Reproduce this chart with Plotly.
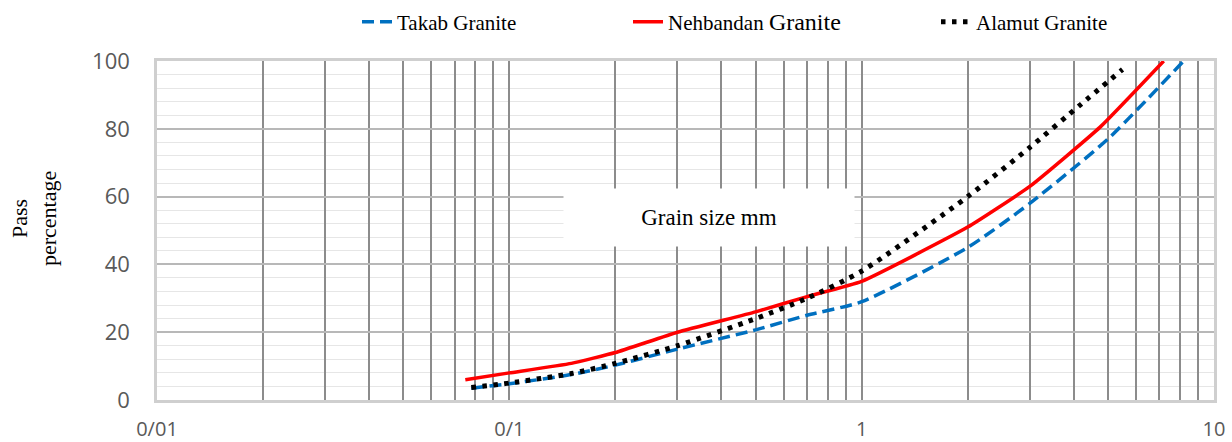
import plotly.graph_objects as go

# Data
takab_size = [0.078, 0.1, 0.15, 0.2, 0.3, 0.5, 0.7, 1, 2, 3, 5, 8.2]
takab_pass = [3.5, 4.8, 7.5, 10.3, 15, 20.7, 25, 29, 45, 58, 77, 100]

nehbandan_size = [0.075, 0.1, 0.15, 0.2, 0.3, 0.5, 0.7, 1, 2, 3, 4.75, 7.2]
nehbandan_pass = [6, 8, 10.8, 14, 20, 26, 30.5, 35, 51, 63, 80.5, 100]

alamut_size = [0.078, 0.1, 0.15, 0.2, 0.3, 0.5, 0.7, 1, 2, 3, 4.2, 5.5]
alamut_pass = [3.7, 5, 7.8, 10.8, 16, 24, 30, 38, 60, 74.5, 87.3, 97.5]

decades = [0.01, 0.1, 1, 10]
decade_labels = ["0/01", "0/1", "1", "10"]
y_ticks = [0, 20, 40, 60, 80, 100]

# vertical grid positions (1..9 in each decade)
grid_vals = []
grid_text = []
for i, d in enumerate(decades[:-1]):
    for m in range(1, 10):
        grid_vals.append(round(d * m, 6))
        grid_text.append(decade_labels[i] if m == 1 else "")
grid_vals.append(decades[-1])
grid_text.append(decade_labels[-1])

fig = go.Figure()
fig.add_trace(go.Scatter(x=takab_size, y=takab_pass, mode="lines", name="Takab Granite",
                         legendwidth=226,
                         line=dict(color="#0070C0", width=3.5, dash="12px,6px", shape="spline", smoothing=0.6)))
fig.add_trace(go.Scatter(x=nehbandan_size, y=nehbandan_pass, mode="lines",
                         name="Nehbandan <span style='font-size:24px'>Granite</span>",
                         legendwidth=263,
                         line=dict(color="#FF0000", width=3.5, shape="spline", smoothing=0.4)))
fig.add_trace(go.Scatter(x=alamut_size, y=alamut_pass, mode="lines", name="Alamut Granite",
                         legendwidth=200,
                         line=dict(color="#000000", width=5, dash="4.5px,6.5px", shape="spline", smoothing=0.6)))

fig.update_layout(
    width=1232, height=442,
    margin=dict(l=157, r=18, t=61, b=42),
    paper_bgcolor="white", plot_bgcolor="white",
    showlegend=True,
    legend=dict(orientation="h", x=(357 - 157) / 1057, xanchor="left",
                yref="container", y=1 - 22 / 442, yanchor="middle",
                font=dict(family="Liberation Serif", size=21, color="black"),
                bgcolor="rgba(0,0,0,0)"),
    xaxis=dict(type="log", range=[-2, 1], tickmode="array", tickvals=grid_vals, ticktext=grid_text,
               showgrid=True, gridcolor="#8c8c8c", gridwidth=2, zeroline=False,
               showline=True, linecolor="#cfcfcf", linewidth=2.5, mirror=True,
               ticks="", ticklabelstandoff=9, automargin=False,
               tickfont=dict(family="Open Sans", size=20, color="#595959")),
    yaxis=dict(range=[0, 100], tickmode="array", tickvals=y_ticks,
               showgrid=True, gridcolor="#b8b8b8", gridwidth=1.5, zeroline=False,
               minor=dict(dtick=4, showgrid=True, gridcolor="#e6e6e6", gridwidth=1),
               showline=True, linecolor="#cfcfcf", linewidth=2.5, mirror=True,
               ticks="", ticklabelstandoff=20, automargin=False,
               tickfont=dict(family="Open Sans", size=22, color="#595959")),
)

fig.add_annotation(text="Pass<br>percentage", xref="paper", yref="paper",
                   x=(34 - 157) / 1057, y=(400 - 219) / 339, xanchor="center", yanchor="middle",
                   textangle=-90, showarrow=False,
                   font=dict(family="Liberation Serif", size=22, color="black"))

fig.add_annotation(text="Grain size mm", xref="paper", yref="paper",
                   x=(709 - 157) / 1057, y=(400 - 217) / 339, xanchor="center", yanchor="middle",
                   showarrow=False, bgcolor="white", width=288, height=55,
                   font=dict(family="Liberation Serif", size=23, color="black"))

fig.write_html("out.html", config={"displayModeBar": False},
               post_script="document.body.style.margin='0';document.body.style.overflow='hidden';")
